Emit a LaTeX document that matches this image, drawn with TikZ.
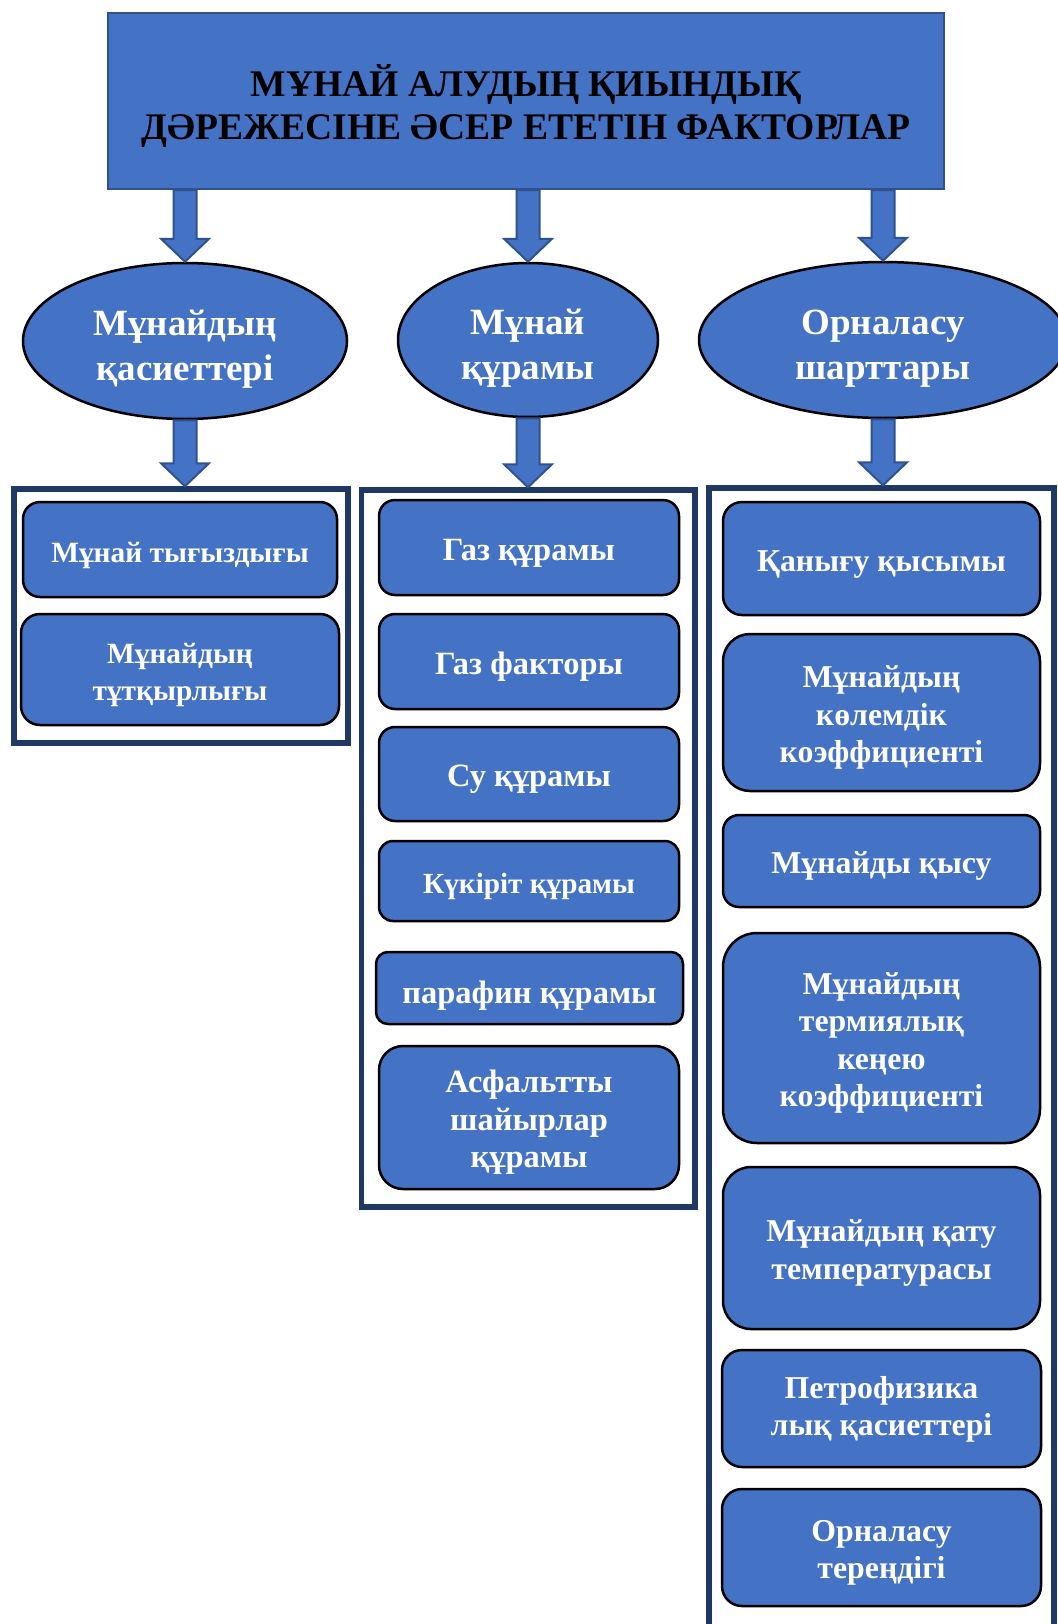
\documentclass[tikz,border=0pt]{standalone}
\usepackage{fontspec}
\setmainfont{Liberation Serif}
\usetikzlibrary{shapes.geometric,calc}
\definecolor{obl}{HTML}{4472C4}
\definecolor{nav}{HTML}{1F3864}
\definecolor{arb}{HTML}{2F528F}
\tikzset{
 titlebox/.style={draw=arb, line width=2.5pt, fill=obl, inner sep=0pt, minimum width=836pt, minimum height=176pt, align=center, text=black, text height=85.5pt, text depth=7.6pt, font=\fontsize{37.6}{43.5}\selectfont\bfseries},
 oval/.style={ellipse, draw=black, line width=2.5pt, fill=obl, inner sep=0pt, text=white, align=center, text height=84.5pt, text depth=6.2pt, font=\fontsize{37}{44.5}\selectfont\bfseries},
 framebox/.style={draw=nav, line width=5.5pt, fill=white, inner sep=0pt},
 item/.style={draw=black, line width=2.5pt, fill=obl, inner sep=0pt, text=white, align=center, text depth=7pt},
 n1/.style={text height=32pt},
 n2/.style={text height=69.3pt},
 n3/.style={text height=106.6pt},
 n4/.style={text height=143.9pt},
 fl/.style={font=\fontsize{29.4}{37.3}\selectfont\bfseries},
 fm/.style={font=\fontsize{32.5}{37.3}\selectfont\bfseries},
 fr/.style={font=\fontsize{31.8}{37.3}\selectfont\bfseries},
 barrow/.style={fill=obl, draw=arb, line width=2pt, line join=miter},
}
\newcommand\blockarr[2]{%
 \draw[barrow] let \p1=(#1), \p2=(#2) in
 (\x1-11.5pt,\y1) -- (\x1-11.5pt,\y2+23pt) -- (\x1-24pt,\y2+23pt) -- (\x1,\y2)
 -- (\x1+24pt,\y2+23pt) -- (\x1+11.5pt,\y2+23pt) -- (\x1+11.5pt,\y1) -- cycle;}
\begin{document}
\begin{tikzpicture}[x=1pt,y=-1pt]
\useasboundingbox (0,0) rectangle (1057,1624);
\fill[white] (0,0) rectangle (1057,1624);

% title
\node[titlebox] (t) at (526,101) {МҰНАЙ АЛУДЫҢ ҚИЫНДЫҚ\\ДӘРЕЖЕСІНЕ ӘСЕР ЕТЕТІН ФАКТОРЛАР};

% ellipses
\node[oval, minimum width=324pt, minimum height=156pt] (e1) at (185,341) {Мұнайдың\\қасиеттері};
\node[oval, minimum width=260pt, minimum height=154pt] (e2) at (528,340) {Мұнай\\құрамы};
\node[oval, minimum width=368pt, minimum height=156pt] (e3) at (883,340) {Орналасу\\шарттары};

% frames
\node[framebox, minimum width=334pt, minimum height=254pt] (c1) at (181,616) {};
\node[framebox, minimum width=333.5pt, minimum height=717pt] (c2) at (528.25,848.5) {};
\node[framebox, minimum width=345pt, minimum height=1139pt] (c3) at (881.5,1057.5) {};

% arrows
\blockarr{t.south -| e1}{e1.north}
\blockarr{t.south -| e2}{e2.north}
\blockarr{t.south -| e3}{e3.north}
\blockarr{e1.south}{c1.north}
\blockarr{e2.south}{c2.north}
\blockarr{e3.south}{c3.north}

% left column
\node[item, fl, n1, minimum width=314pt, minimum height=95pt, rounded corners=17pt] (l1) at (180,549.5) {Мұнай тығыздығы};
\node[item, fl, n2, minimum width=318pt, minimum height=111pt, rounded corners=19pt] (l2) at (180,669.5) {Мұнайдың\\тұтқырлығы};

% middle column
\node[item, fm, n1, minimum width=300pt, minimum height=95pt, rounded corners=16pt] (m1) at (529,547.5) {Газ құрамы};
\node[item, fm, n1, minimum width=300pt, minimum height=95pt, rounded corners=16pt] (m2) at (529,661.5) {Газ факторы};
\node[item, fm, n1, minimum width=300pt, minimum height=94pt, rounded corners=16pt] (m3) at (529,774) {Су құрамы};
\node[item, n1, font=\fontsize{29.2}{37.3}\selectfont\bfseries, minimum width=300pt, minimum height=80pt, rounded corners=14pt] (m4) at (529,881) {Күкіріт құрамы};
\node[item, fm, text height=38pt, minimum width=307pt, minimum height=72pt, rounded corners=12pt] (m5) at (529.5,988) {парафин құрамы};
\node[item, fm, n3, minimum width=300pt, minimum height=143pt, rounded corners=24pt] (m6) at (529,1117.5) {Асфальтты\\шайырлар\\құрамы};

% right column
\node[item, fr, n1, minimum width=317pt, minimum height=113pt, rounded corners=19pt] (r1) at (881.5,558.5) {Қанығу қысымы};
\node[item, fr, n3, minimum width=317pt, minimum height=157pt, rounded corners=27pt] (r2) at (881.5,712.5) {Мұнайдың\\көлемдік\\коэффициенті};
\node[item, fr, n1, minimum width=317pt, minimum height=92pt, rounded corners=16pt] (r3) at (881.5,861) {Мұнайды қысу};
\node[item, fr, n4, minimum width=317pt, minimum height=210pt, rounded corners=34pt] (r4) at (881.5,1038) {Мұнайдың\\термиялық\\кеңею\\коэффициенті};
\node[item, fr, n2, minimum width=317pt, minimum height=162pt, rounded corners=28pt] (r5) at (881.5,1248) {Мұнайдың қату\\температурасы};
\node[item, fr, n2, text depth=15pt, minimum width=319pt, minimum height=117pt, rounded corners=20pt] (r6) at (881.5,1408.5) {Петрофизика\\лық қасиеттері};
\node[item, fr, n2, minimum width=319pt, minimum height=117pt, rounded corners=20pt] (r7) at (881.5,1547.5) {Орналасу\\тереңдігі};
\end{tikzpicture}
\end{document}
